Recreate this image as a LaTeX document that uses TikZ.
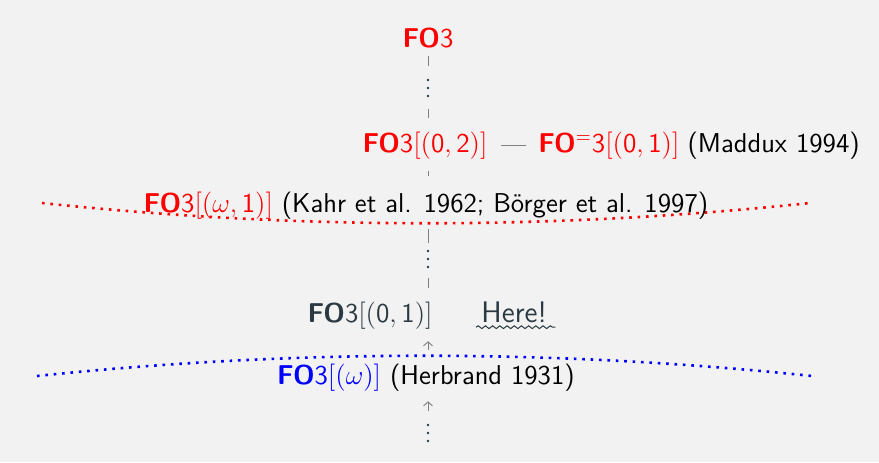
\documentclass[tikz,border=0pt]{standalone}
\usetikzlibrary{decorations.pathmorphing,arrows.meta}
\definecolor{slate}{RGB}{43,58,66}
\definecolor{bggray}{RGB}{242,242,242}
\definecolor{linegray}{RGB}{128,128,128}
\tikzset{
  txt/.style={font=\sffamily\fontsize{12}{14}\selectfont, scale=1.135, inner sep=0pt, anchor=base},
  dotsnode/.style={inner sep=0pt, minimum width=2pt, minimum height=9.4pt, anchor=center},
  dotfill/.style={fill=slate},
  vline/.style={draw=linegray, line width=0.5pt},
  uparr/.style={draw=linegray, line width=0.45pt, -{Straight Barb[length=2pt,width=4.5pt]}},
  reddots/.style={draw=red, line width=1.3pt, dash pattern=on 1.3pt off 2.9pt},
  bluedots/.style={draw=blue, line width=1.3pt, dash pattern=on 1.3pt off 2.9pt},
  wavy/.style={draw=slate, line width=0.5pt, decorate, decoration={snake, amplitude=0.7pt, segment length=3.6pt}}
}
\begin{document}
\begin{tikzpicture}[x=0.5pt,y=-0.5pt]
\fill[bggray] (0,0) rectangle (879,462);
\useasboundingbox (0,0) rectangle (879,462);
\coordinate (col) at (428,0);
% dotted curves
\draw[reddots] (42,203) .. controls (298,230) and (554,230) .. (810,203);
\draw[bluedots] (37,376) .. controls (295,349) and (554,349) .. (812,376);
% nodes
\node[txt, text=red] (fo3) at (428,47) {\textbf{FO}3};
\node[dotsnode] (d1) at (428,88) {};
\node[txt, text=red] (fo302) at (425,152) {\textbf{FO}3$[(\mathsf{0},\mathsf{2})]$};
\node[txt, text=red, anchor=base west] (fo3eq) at ([xshift=25pt]fo302.base east) {\textbf{FO}$^{=}$3$[(\mathsf{0},\mathsf{1})]$};
\node[txt, text=black, anchor=base west] (maddux) at ([xshift=3.6pt]fo3eq.base east) {(Maddux 1994)};
\node[txt, text=black] (kahr) at (426,212) {{\color{red}\textbf{FO}3$[(\omega,\mathsf{1})]$} (Kahr et al. 1962; Börger et al. 1997)};
\node[dotsnode] (d2) at (428,259) {};
\node[txt, text=slate, anchor=base east] (fo301) at (433,322) {\textbf{FO}3$[(\mathsf{0},\mathsf{1})]$};
\node[txt, text=slate, anchor=base west, font=\sffamily\fontsize{13.1}{16}\selectfont] (here) at (481,322) {Here!};
\node[txt, text=black] (herb) at (426,384) {{\color{blue}\textbf{FO}3$[(\omega)]$} (Herbrand 1931)};
\node[dotsnode] (d3) at (428,433) {};
% vertical ellipses
\foreach \n in {d1,d2,d3}
  \fill[dotfill] ([yshift=4pt]\n.center) circle[radius=0.72pt]
                 (\n.center) circle[radius=0.72pt]
                 ([yshift=-4pt]\n.center) circle[radius=0.72pt];
% connectors
\draw[vline, shorten <=4pt, shorten >=6pt] (fo3.south -| col) -- (d1.north);
\draw[vline, shorten <=5.5pt, shorten >=6.5pt] (d1.south) -- (fo302.north -| col);
\draw[vline, shorten <=6pt, shorten >=7.5pt] (fo302.south -| col) -- (kahr.north -| col);
\draw[vline, shorten <=5pt, shorten >=3pt] (kahr.south -| col) -- (d2.north);
\draw[vline, shorten <=4.5pt, shorten >=6.5pt] (d2.south) -- (fo301.north -| col);
\draw[vline, shorten <=6.5pt, shorten >=6pt] (fo302.east) -- (fo3eq.west |- fo302.east);
\draw[uparr, shorten <=6.5pt, shorten >=6pt] (herb.north -| col) -- (fo301.south -| col);
\draw[uparr, shorten <=6pt, shorten >=5pt] (d3.north) -- (herb.south -| col);
\draw[wavy] ([xshift=-2.5pt,yshift=-2.6pt]here.base west) -- ([xshift=4pt,yshift=-2.6pt]here.base east);
\end{tikzpicture}
\end{document}
